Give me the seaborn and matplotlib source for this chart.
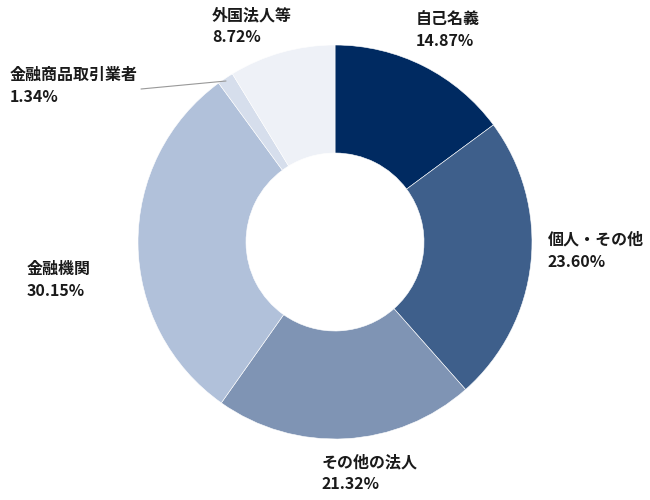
import pandas as pd
import numpy as np
import matplotlib.pyplot as plt
import seaborn as sns

# データ
labels = ['自己名義', '個人・その他', 'その他の法人', '金融機関', '金融商品取引業者', '外国法人等']
values = [14.87, 23.60, 21.32, 30.15, 1.34, 8.72]
colors = ['#002A61', '#3E5F8B', '#7F94B4', '#B1C1DA', '#D6DEEC', '#EEF1F7']

df = pd.DataFrame({'label': labels, 'value': values})

sns.set_theme(style='white')
plt.rcParams['font.family'] = ['Noto Sans CJK JP', 'DejaVu Sans']

fig = plt.figure(figsize=(6.5, 5), dpi=100)
ax = fig.add_axes([0, 0, 1, 1])

# ドーナツ
ax.pie(df['value'], colors=colors, startangle=90, counterclock=False,
       center=(335, 258), radius=197,
       wedgeprops=dict(width=108, edgecolor='white', linewidth=0.4))

# pie() が軸範囲を上書きするので後で設定
ax.set_xlim(0, 650)
ax.set_ylim(0, 500)
ax.set_aspect('equal')
ax.axis('off')

# ラベル位置（ピクセル, 左上）
label_pos = [(416, 489), (548, 268), (322, 46), (27, 239), (10, 433), (212, 493)]
for (x, y), lab, v in zip(label_pos, df['label'], df['value']):
    ax.text(x, y, f'{lab}\n{v:.2f}%', ha='left', va='top', fontsize=11.5,
            fontweight='bold', color='#1a1a1a', linespacing=1.45)

# 引き出し線
ax.plot([141, 226], [411, 419], color='#999999', linewidth=0.8)

plt.savefig('out.png', dpi=100)
